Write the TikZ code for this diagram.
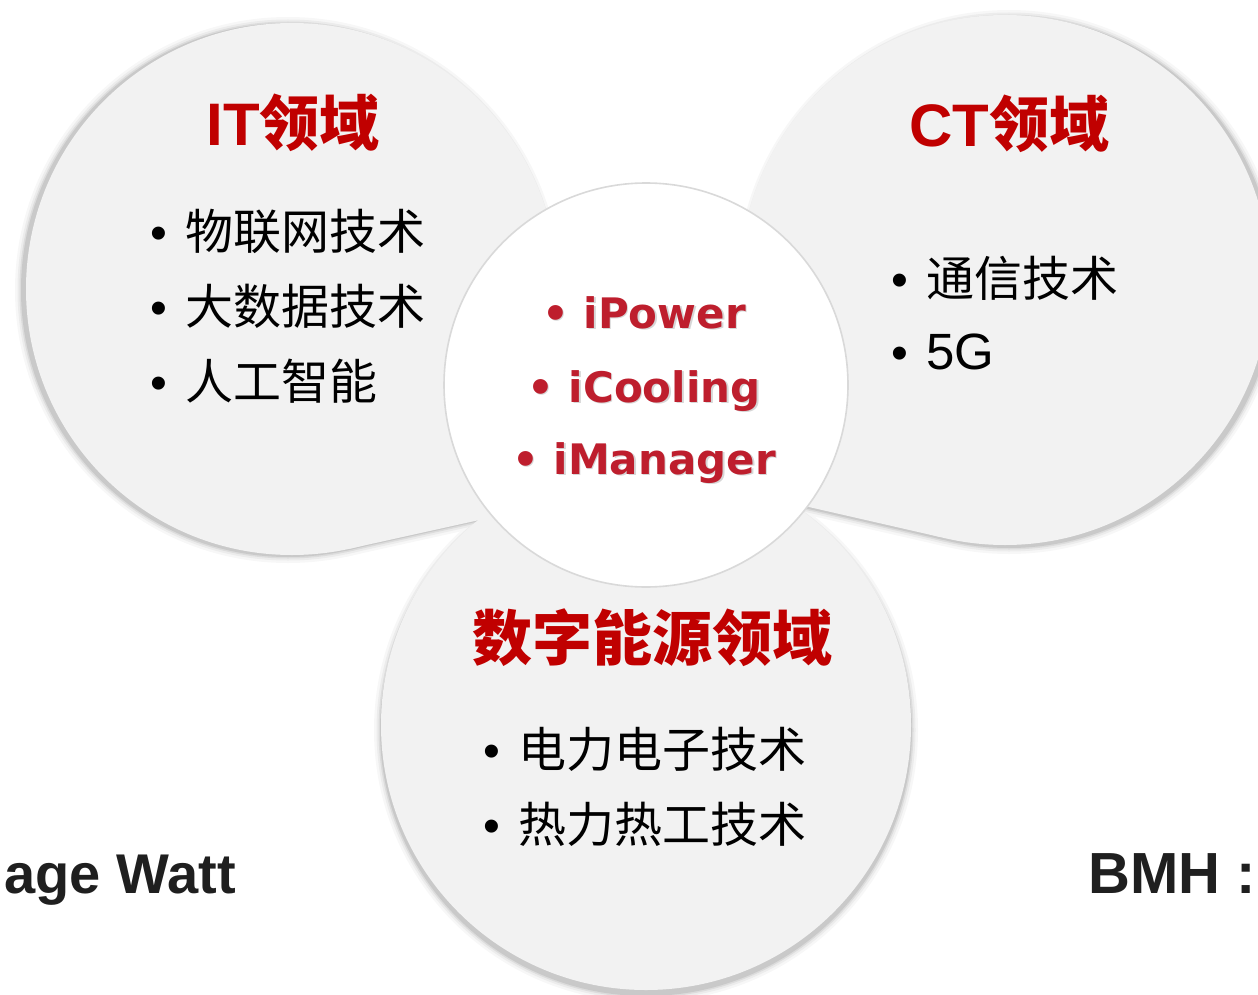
\documentclass[tikz,border=0pt]{standalone}
\usepackage{fontspec}
\setmainfont{Liberation Sans}
\newfontfamily\cjk{Noto Sans CJK SC}
\newfontfamily\dvs{DejaVu Sans}
\definecolor{bubble}{HTML}{F2F2F2}
\definecolor{shA}{HTML}{F7F7F7}
\definecolor{shB}{HTML}{ECECEC}
\definecolor{shC}{HTML}{DCDCDC}
\definecolor{shD}{HTML}{C9C9C9}
\definecolor{ringgray}{HTML}{D9D9D9}
\definecolor{headred}{HTML}{C00000}
\definecolor{ctrred}{RGB}{190,30,45}
\definecolor{darktext}{HTML}{1F1F1F}
\newcommand\bl[1]{\textbullet\hspace{18pt}{\cjk #1}}
\newcommand\ITcirc{(292,289) circle (266pt)}
\newcommand\ITtail{(292,289) -- (349.6,548.7) -- (529,509) -- (646,385) -- cycle}
\newcommand\CTcirc{(1005,280) circle (265pt)}
\newcommand\CTtail{(1005,280) -- (940,537) -- (774,499) -- (646,385) -- cycle}
\newcommand\BOcirc{(646,725) circle (265pt)}
\begin{document}
\begin{tikzpicture}[x=1pt,y=-1pt,
  shadowlayer/.style={draw=#1,fill=#1,line join=round},
  head/.style={text=headred,font=\bfseries\fontsize{60}{60}\selectfont,inner sep=0pt,anchor=base},
  item/.style={text=black,font=\fontsize{48}{48}\selectfont,inner sep=0pt,anchor=base west},
  ctr/.style={text=ctrred,font=\dvs\bfseries\fontsize{42}{42}\selectfont,inner sep=0pt,anchor=base},
  ctrsh/.style={text=black!45,opacity=0.35,font=\dvs\bfseries\fontsize{42}{42}\selectfont,inner sep=0pt,anchor=base},
  foot/.style={text=darktext,font=\bfseries\fontsize{56}{56}\selectfont,inner sep=0pt}]
\useasboundingbox (0,0) rectangle (1258,995);
\clip (0,0) rectangle (1258,995);
% shadows
\foreach \w/\c in {14/shA,9/shB,5/shC,2/shD}{
  \begin{scope}[shift={(-4,1)}]
    \filldraw[shadowlayer=\c,line width=\w pt] \ITcirc;
    \filldraw[shadowlayer=\c,line width=\w pt] \ITtail;
  \end{scope}
  \begin{scope}[shift={(4,2)}]
    \filldraw[shadowlayer=\c,line width=\w pt] \CTcirc;
    \filldraw[shadowlayer=\c,line width=\w pt] \CTtail;
  \end{scope}
  \begin{scope}[shift={(0,5)}]
    \filldraw[shadowlayer=\c,line width=\w pt] \BOcirc;
  \end{scope}
}
% bubbles
\fill[bubble] \BOcirc;
\fill[bubble] \ITcirc;
\fill[bubble] \ITtail;
\fill[bubble] \CTcirc;
\fill[bubble] \CTtail;
% centre circle
\filldraw[fill=white,draw=ringgray,line width=1.6pt] (646,385) circle (202pt);
% headings
\node[head] (ith) at (293,146) {IT{\cjk 领域}};
\node[head] (cth) at (1009,147) {CT{\cjk 领域}};
\node[head] (deh) at (652,660) {{\cjk 数字能源领域}};
% IT items
\node[item] (it1) at (150,249) {\bl{物联网技术}};
\node[item] (it2) at (150,324) {\bl{大数据技术}};
\node[item] (it3) at (150,399) {\bl{人工智能}};
% CT items
\node[item] (ct1) at (891,296) {\bl{通信技术}};
\node[item] (ct2) at (891,369) {\textbullet\hspace{18pt}{\fontsize{51}{51}\selectfont 5G}};
% DE items
\node[item] (de1) at (483,767) {\bl{电力电子技术}};
\node[item] (de2) at (483,842) {\bl{热力热工技术}};
% centre items
\node[ctrsh] (c1s) at (645.5,329.5) {• iPower};
\node[ctrsh] (c2s) at (645.5,403.5) {• iCooling};
\node[ctrsh] (c3s) at (645.5,475.5) {• iManager};
\node[ctr] (c1) at (644,328) {• iPower};
\node[ctr] (c2) at (644,402) {• iCooling};
\node[ctr] (c3) at (644,474) {• iManager};
% footer fragments
\node[foot,anchor=base east] (fl) at (236,893) {age Watt};
\node[foot,anchor=base west,font=\bfseries\fontsize{58}{58}\selectfont] (fr) at (1088,893) {BMH :};
\end{tikzpicture}
\end{document}
